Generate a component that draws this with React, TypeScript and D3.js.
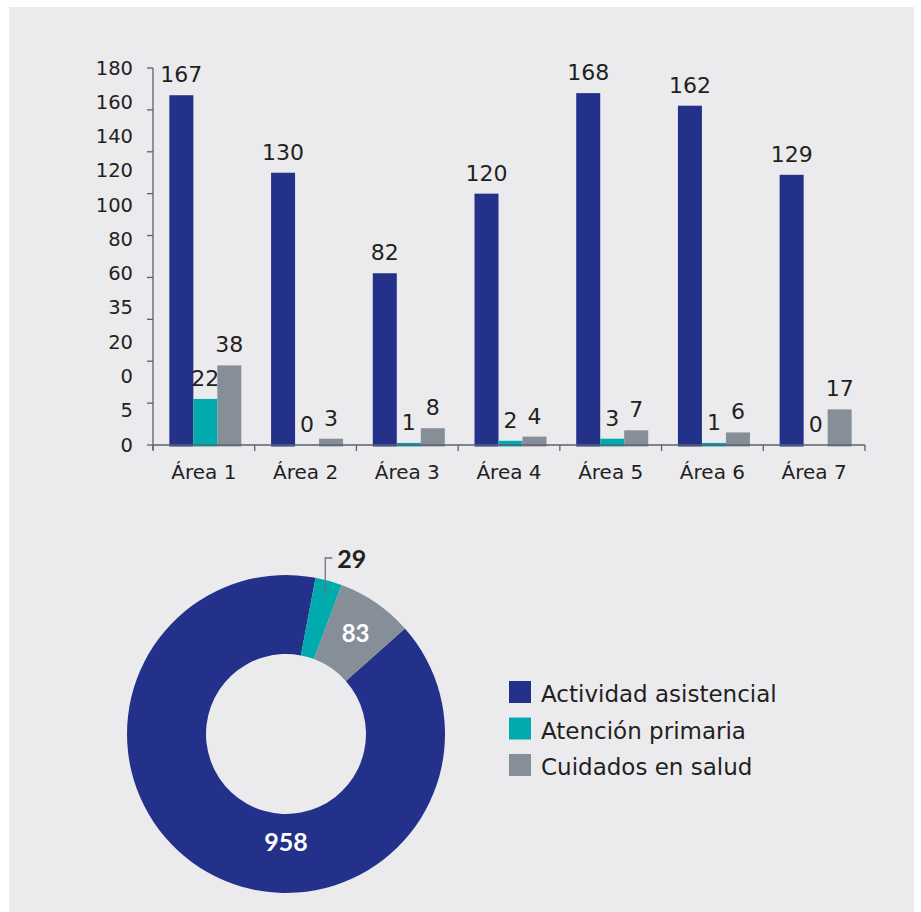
import React from "react";
import * as d3 from "d3";

const categories = ["Área 1", "Área 2", "Área 3", "Área 4", "Área 5", "Área 6", "Área 7"];
const seriesNames = ["Actividad asistencial", "Atención primaria", "Cuidados en salud"];
const actividad = [167, 130, 82, 120, 168, 162, 129];
const atencion = [22, 0, 1, 2, 3, 1, 0];
const cuidados = [38, 3, 8, 4, 7, 6, 17];
const yTickLabels = ["180", "160", "140", "120", "100", "80", "60", "35", "20", "0", "5", "0"];
const donutValues = [958, 29, 83];
const colors = ["#24318a", "#00aaad", "#868e98"];

const FONT = "'DejaVu Sans', sans-serif";
const BOLD = "Lato, 'Open Sans', sans-serif";
const TEXT = "#231f20";
const AXIS = "#5b6170";

export default function App() {
  const series = [actividad, atencion, cuidados];
  const y = d3.scaleLinear().domain([0, 180]).range([445, 68]);
  const yLab = d3.scalePoint<string>().domain(yTickLabels.map((_, i) => String(i))).range([68, 445]);
  const x = d3.scaleBand<string>().domain(categories).range([153, 865]);
  const groupW = 72;
  const xs = d3.scaleBand<string>().domain(seriesNames).range([0, groupW]);
  const ticks = d3.range(0, 181, 20);

  const cx = 286, cy = 734, rOut = 159, rIn = 80;
  const start = (48.4 / 180) * Math.PI;
  const pie = d3.pie<number>().sort(null).value((d) => d).startAngle(start).endAngle(start + 2 * Math.PI);
  const arcs = pie(donutValues);
  const arc = d3.arc<d3.PieArcDefaultObject<number>>().innerRadius(rIn).outerRadius(rOut);
  const polar = (a: number, r: number) => [cx + r * Math.sin(a), cy - r * Math.cos(a)];

  const bigPos = polar(Math.PI, 107);
  const grayMid = (arcs[2].startAngle + arcs[2].endAngle) / 2;
  const grayPos = polar(grayMid, 123);
  const tealMid = (arcs[1].startAngle + arcs[1].endAngle) / 2;
  const leadStart = polar(tealMid, 146);
  const leadTopY = cy - rOut - 17;

  return (
    <svg width={921} height={912} style={{ position: "absolute", left: 0, top: 0, background: "#fff" }}>
      <rect x={9} y={7} width={905} height={905} fill="#ebebee" />
      {categories.map((c, i) => (
        <g key={c} transform={`translate(${(x(c) as number) + (x.bandwidth() - groupW) / 2 + 1.5},0)`}>
          {series.map((s, j) =>
            s[i] > 0 ? (
              <rect key={j} x={xs(seriesNames[j])} y={y(s[i])} width={xs.bandwidth()} height={y(0) - y(s[i]) + 1.5} fill={colors[j]} />
            ) : null
          )}
          {series.map((s, j) => (
            <text key={"t" + j} x={(xs(seriesNames[j]) as number) + xs.bandwidth() / 2} y={y(s[i]) - 13} textAnchor="middle" fontFamily={FONT} fontSize={22} fill={TEXT}>
              {s[i]}
            </text>
          ))}
        </g>
      ))}
      <line x1={153} x2={153} y1={y(180)} y2={y(0) + 5} stroke={AXIS} strokeWidth={1.3} />
      {ticks.map((t) => (
        <line key={t} x1={147} x2={153} y1={y(t)} y2={y(t)} stroke={AXIS} strokeWidth={1.3} />
      ))}
      {yTickLabels.map((l, i) => (
        <text key={i} x={133} y={yLab(String(i))} textAnchor="end" dominantBaseline="central" fontFamily={FONT} fontSize={19.5} fill={TEXT}>
          {l}
        </text>
      ))}
      <line x1={153} x2={865} y1={y(0)} y2={y(0)} stroke={AXIS} strokeWidth={1.3} />
      {[...categories.map((c) => x(c) as number), 865].map((v, i) => (
        <line key={i} x1={v} x2={v} y1={y(0)} y2={y(0) + 6} stroke={AXIS} strokeWidth={1.3} />
      ))}
      {categories.map((c) => (
        <text key={c} x={(x(c) as number) + x.bandwidth() / 2} y={479} textAnchor="middle" fontFamily={FONT} fontSize={20} fill={TEXT}>
          {c}
        </text>
      ))}
      <g transform={`translate(${cx},${cy})`}>
        {arcs.map((a, i) => (
          <path key={i} d={arc(a) as string} fill={colors[i]} />
        ))}
      </g>
      <text x={bigPos[0]} y={bigPos[1]} textAnchor="middle" dominantBaseline="central" fontFamily={BOLD} fontWeight="bold" fontSize={25} fill="#fff">
        {donutValues[0]}
      </text>
      <text x={grayPos[0]} y={grayPos[1]} textAnchor="middle" dominantBaseline="central" fontFamily={BOLD} fontWeight="bold" fontSize={24} fill="#fff">
        {donutValues[2]}
      </text>
      <polyline points={`${leadStart[0]},${leadStart[1]} ${leadStart[0]},${leadTopY} ${leadStart[0] + 7},${leadTopY}`} fill="none" stroke="#6b7280" strokeWidth={1.3} />
      <text x={leadStart[0] + 12} y={leadTopY} dominantBaseline="central" fontFamily={BOLD} fontWeight="bold" fontSize={25} fill={TEXT}>
        {donutValues[1]}
      </text>
      {seriesNames.map((n, i) => (
        <g key={n} transform={`translate(509,${681 + i * 36.5})`}>
          <rect width={22} height={22} fill={colors[i]} />
          <text x={32} y={21} fontFamily={FONT} fontSize={23} fill={TEXT}>
            {n}
          </text>
        </g>
      ))}
    </svg>
  );
}
